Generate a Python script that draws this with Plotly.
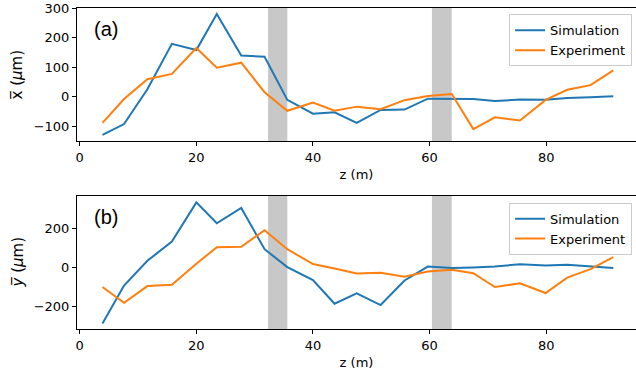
import plotly.graph_objects as go

# Beam centroid along the line: simulation vs. measurement
z = [3.9, 7.6, 11.6, 15.8, 20.0, 23.5, 27.7, 31.7, 35.6, 40.0, 43.7, 47.5,
     51.6, 55.7, 59.7, 63.8, 67.5, 71.2, 75.5, 79.9, 83.6, 87.6, 91.5]

x_sim = [-129, -92, 26, 180, 159, 281, 140, 136, -10, -57, -52, -88,
         -44, -43, -6, -6, -7, -14, -9, -10, -4, -1, 2]
x_exp = [-88, -7, 60, 78, 166, 99, 116, 16, -47, -19, -47, -33,
         -42, -11, 3, 10, -109, -69, -80, -10, 24, 40, 90]

y_sim = [-289, -93, 35, 134, 337, 229, 308, 95, 2, -65, -187, -134,
         -194, -67, 5, -3, 0, 5, 17, 10, 14, 4, -3]
y_exp = [-101, -182, -96, -89, 19, 105, 107, 193, 95, 18, -5, -31,
         -27, -48, -21, -12, -29, -101, -82, -132, -52, -8, 54]

# Shaded z intervals
spans = [(32.3, 35.6), (60.4, 63.8)]

x_ticks = [0, 20, 40, 60, 80]
y_ticks_a = [-100, 0, 100, 200, 300]
y_ticks_b = [-200, 0, 200]

BLUE = "#1f77b4"
ORANGE = "#ff7f0e"
FONT = "DejaVu Sans"

fig = go.Figure()

fig.add_trace(go.Scatter(x=z, y=x_sim, mode="lines", name="Simulation",
                         line=dict(color=BLUE, width=2), xaxis="x", yaxis="y",
                         legend="legend"))
fig.add_trace(go.Scatter(x=z, y=x_exp, mode="lines", name="Experiment",
                         line=dict(color=ORANGE, width=2), xaxis="x", yaxis="y",
                         legend="legend"))
fig.add_trace(go.Scatter(x=z, y=y_sim, mode="lines", name="Simulation",
                         line=dict(color=BLUE, width=2), xaxis="x2", yaxis="y2",
                         legend="legend2"))
fig.add_trace(go.Scatter(x=z, y=y_exp, mode="lines", name="Experiment",
                         line=dict(color=ORANGE, width=2), xaxis="x2", yaxis="y2",
                         legend="legend2"))

for xr, yr in (("x", "y domain"), ("x2", "y2 domain")):
    for a, b in spans:
        fig.add_shape(type="rect", xref=xr, yref=yr, x0=a, x1=b, y0=0, y1=1,
                      fillcolor="#c8c8c8", line_width=0, layer="below")

xaxis_common = dict(range=[-0.47, 95.4], tickvals=x_ticks, showline=True,
                    linecolor="black", linewidth=1, mirror=True, ticks="outside",
                    ticklen=4, tickcolor="black", showgrid=False, zeroline=False,
                    tickfont=dict(size=13, color="black"))
yaxis_common = dict(showline=True, linecolor="black", linewidth=1, mirror=False,
                    ticks="outside", ticklen=4, tickcolor="black", showgrid=False,
                    zeroline=False, tickfont=dict(size=13, color="black"))

legend_common = dict(xanchor="right", yanchor="top", bgcolor="rgba(255,255,255,0.8)",
                     bordercolor="#cccccc", borderwidth=1,
                     font=dict(size=13, color="black", family=FONT),
                     tracegroupgap=0)

panel_font = dict(size=20, color="black", family="Liberation Sans")
ytitle_font = dict(size=15, color="black", family=FONT)

fig.update_layout(
    width=636, height=377,
    margin=dict(l=77, r=0, t=8, b=48),
    paper_bgcolor="white", plot_bgcolor="white",
    font=dict(family=FONT, size=13, color="black"),
    xaxis=dict(**xaxis_common, anchor="y",
               title=dict(text="z (m)", standoff=6, font=dict(size=13))),
    yaxis=dict(**yaxis_common, domain=[0.5857, 1], anchor="x",
               range=[-149.5, 301.5], tickvals=y_ticks_a),
    xaxis2=dict(**xaxis_common, anchor="y2",
                title=dict(text="z (m)", standoff=6, font=dict(size=13))),
    yaxis2=dict(**yaxis_common, domain=[0, 0.4143], anchor="x2",
                range=[-318, 370], tickvals=y_ticks_b),
    legend=dict(**legend_common, x=0.993, y=0.980),
    legend2=dict(**legend_common, x=0.993, y=0.3935),
    showlegend=True,
    annotations=[
        dict(text="(a)", xref="x domain", yref="y domain", x=0.026, y=0.842,
             xanchor="left", yanchor="middle", showarrow=False, font=panel_font),
        dict(text="(b)", xref="x2 domain", yref="y2 domain", x=0.026, y=0.842,
             xanchor="left", yanchor="middle", showarrow=False, font=panel_font),
        dict(text="x\u0305 (<i>\u03bc</i>m)", xref="paper", yref="y domain",
             x=-0.1073, y=0.5, xanchor="center", yanchor="middle",
             textangle=-90, showarrow=False, font=ytitle_font),
        dict(text="<i>y\u0305</i> (<i>\u03bc</i>m)", xref="paper", yref="y2 domain",
             x=-0.1073, y=0.5, xanchor="center", yanchor="middle",
             textangle=-90, showarrow=False, font=ytitle_font),
    ],
)

fig.write_html("out.html")
